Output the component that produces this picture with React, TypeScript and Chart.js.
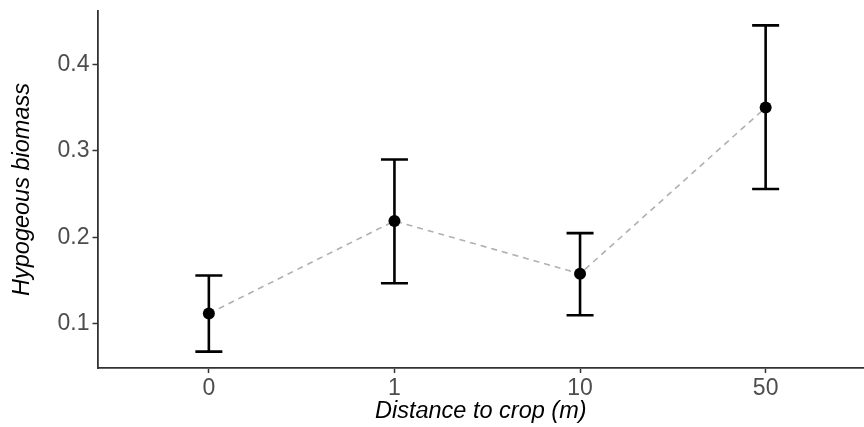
import React, { useEffect, useRef } from "react";
import { Chart, registerables } from "chart.js";

Chart.register(...registerables);

const categories = ["0", "1", "10", "50"];
const means = [0.112, 0.219, 0.158, 0.35];
const lower = [0.068, 0.147, 0.11, 0.256];
const upper = [0.156, 0.29, 0.205, 0.445];
const yTicks = [0.1, 0.2, 0.3, 0.4];

const FONT = "'Liberation Sans', Arial, Helvetica, sans-serif";

const errorBarPlugin = {
  id: "errorBars",
  beforeDatasetsDraw(chart: any) {
    const { ctx, scales } = chart;
    const xs = scales.x;
    const ys = scales.y;
    const cap = 13.5;
    ctx.save();
    ctx.strokeStyle = "#000000";
    ctx.lineWidth = 2.6;
    ctx.lineCap = "butt";
    for (let i = 0; i < categories.length; i++) {
      const x = xs.getPixelForValue(i);
      const yl = ys.getPixelForValue(lower[i]);
      const yu = ys.getPixelForValue(upper[i]);
      ctx.beginPath();
      ctx.moveTo(x, yl);
      ctx.lineTo(x, yu);
      ctx.moveTo(x - cap, yu);
      ctx.lineTo(x + cap, yu);
      ctx.moveTo(x - cap, yl);
      ctx.lineTo(x + cap, yl);
      ctx.stroke();
    }
    ctx.restore();
  },
};

export default function App() {
  const ref = useRef<HTMLCanvasElement | null>(null);
  useEffect(() => {
    if (!ref.current) return;
    const chart = new Chart(ref.current, {
      type: "line",
      data: {
        datasets: [
          {
            data: means.map((v, i) => ({ x: i, y: v })),
            borderColor: "#b0b0b0",
            borderWidth: 1.6,
            borderDash: [6, 5],
            pointRadius: 6,
            pointBackgroundColor: "#000000",
            pointBorderColor: "#000000",
            pointBorderWidth: 0,
            fill: false,
            tension: 0,
          },
        ],
      },
      options: {
        responsive: false,
        animation: false,
        devicePixelRatio: 1,
        layout: { autoPadding: false, padding: { top: 11, right: 0, left: 0, bottom: 0 } },
        plugins: {
          legend: { display: false },
          tooltip: { enabled: false },
        },
        scales: {
          x: {
            type: "linear",
            min: -0.6,
            max: 3.53,
            afterBuildTicks: (scale: any) => {
              scale.ticks = categories.map((_, i) => ({ value: i }));
            },
            ticks: {
              callback: (v: any) => categories[v as number] ?? "",
              color: "#4d4d4d",
              font: { family: FONT, size: 23 },
              padding: 1.5,
              maxRotation: 0,
              autoSkip: false,
            },
            grid: {
              display: true,
              drawOnChartArea: false,
              tickLength: 5,
              tickColor: "#333333",
              tickWidth: 1.5,
            },
            border: { display: true, color: "#333333", width: 1.8 },
            title: {
              display: true,
              text: "Distance to crop (m)",
              color: "#000000",
              font: { family: FONT, size: 23.5, style: "italic" },
              padding: { top: 0, bottom: 1 },
            },
            afterFit: (scale: any) => {
              scale.height = 59;
              scale.paddingLeft = 0;
              scale.paddingRight = 0;
            },
          },
          y: {
            type: "linear",
            min: 0.0491,
            max: 0.4616,
            afterBuildTicks: (scale: any) => {
              scale.ticks = yTicks.map((v) => ({ value: v }));
            },
            ticks: {
              callback: (v: any) => Number(v).toFixed(1),
              color: "#4d4d4d",
              font: { family: FONT, size: 23 },
              padding: 3,
            },
            grid: {
              display: true,
              drawOnChartArea: false,
              tickLength: 5,
              tickColor: "#333333",
              tickWidth: 1.5,
            },
            border: { display: true, color: "#333333", width: 1.8 },
            title: {
              display: true,
              text: "Hypogeous biomass",
              color: "#000000",
              font: { family: FONT, size: 23.5, style: "italic" },
              padding: { top: 8, bottom: 0 },
            },
            afterFit: (scale: any) => {
              scale.width = 97.5;
              scale.paddingTop = 0;
              scale.paddingBottom = 0;
            },
          },
        },
      },
      plugins: [errorBarPlugin],
    } as any);
    return () => chart.destroy();
  }, []);
  return (
    <div style={{ position: "absolute", left: 0, top: 0, width: 864, height: 427, background: "#ffffff" }}>
      <canvas ref={ref} width={864} height={427} style={{ display: "block" }} />
    </div>
  );
}
